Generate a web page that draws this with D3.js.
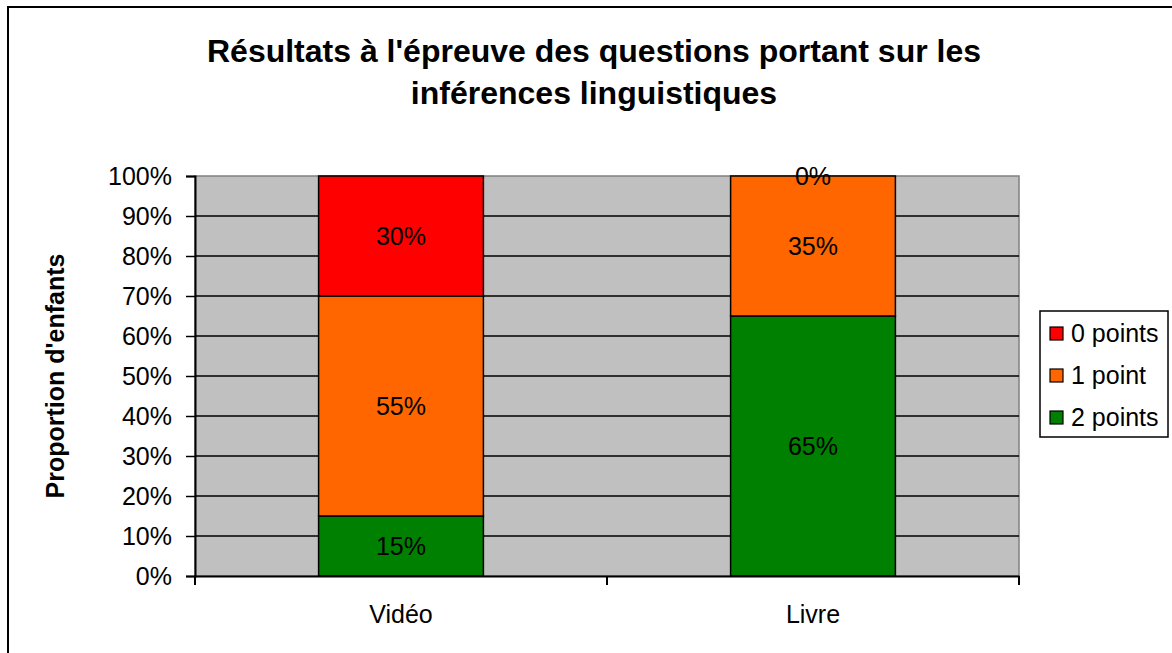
<!DOCTYPE html>
<html>
<head>
<meta charset="utf-8">
<script src="https://cdn.jsdelivr.net/npm/d3@7"></script>
<style>
  body { margin: 0; background: #fff; }
  svg text { font-family: "Liberation Sans", Arial, sans-serif; }
</style>
</head>
<body>
<script>
// données
var categories = ["Vidéo", "Livre"];
var seriesNames = ["2 points", "1 point", "0 points"];
var seriesColors = ["#008000", "#FF6600", "#FF0000"];
var points2 = [15, 65];
var point1 = [55, 35];
var points0 = [30, 0];
var yTicks = [0, 10, 20, 30, 40, 50, 60, 70, 80, 90, 100];

var width = 1172, height = 653;
var plot = { left: 195, top: 176, right: 1019, bottom: 576 };
var fs = "25px";

var svg = d3.select("body").append("svg")
  .attr("width", width)
  .attr("height", height);

// cadre
svg.append("rect")
  .attr("x", 8).attr("y", 7)
  .attr("width", 1200).attr("height", 700)
  .attr("fill", "#fff")
  .attr("stroke", "#000")
  .attr("stroke-width", 2);

var x = d3.scaleBand().domain(categories)
  .range([plot.left, plot.right])
  .paddingInner(0.6).paddingOuter(0.3);
var xOuter = d3.scaleBand().domain(categories).range([plot.left, plot.right]);
var y = d3.scaleLinear().domain([0, 100]).range([plot.bottom, plot.top]);

// fond gris
svg.append("rect")
  .attr("x", plot.left).attr("y", plot.top)
  .attr("width", plot.right - plot.left).attr("height", plot.bottom - plot.top)
  .attr("fill", "#C0C0C0")
  .attr("stroke", "#808080")
  .attr("stroke-width", 1.5);

// quadrillage
svg.append("g").selectAll("line")
  .data(yTicks.filter(function(d) { return d > 0 && d < 100; }))
  .enter().append("line")
  .attr("x1", plot.left).attr("x2", plot.right)
  .attr("y1", function(d) { return y(d); })
  .attr("y2", function(d) { return y(d); })
  .attr("stroke", "#000").attr("stroke-width", 1.5);

// barres empilées
var table = categories.map(function(c, i) {
  return { cat: c, "2 points": points2[i], "1 point": point1[i], "0 points": points0[i] };
});
var stack = d3.stack().keys(seriesNames)(table);

var layer = svg.append("g").selectAll("g")
  .data(stack).enter().append("g");

layer.selectAll("rect")
  .data(function(d) { return d.map(function(p) { return { key: d.key, p: p }; }); })
  .enter().append("rect")
  .filter(function(d) { return d.p[1] - d.p[0] > 0; })
  .attr("x", function(d) { return x(d.p.data.cat); })
  .attr("width", x.bandwidth())
  .attr("y", function(d) { return y(d.p[1]); })
  .attr("height", function(d) { return y(d.p[0]) - y(d.p[1]); })
  .attr("fill", function(d) { return seriesColors[seriesNames.indexOf(d.key)]; })
  .attr("stroke", "#000").attr("stroke-width", 1.5);

// étiquettes des valeurs
layer.selectAll("text")
  .data(function(d) { return d.map(function(p) { return { key: d.key, p: p }; }); })
  .enter().append("text")
  .attr("x", function(d) { return x(d.p.data.cat) + x.bandwidth() / 2; })
  .attr("y", function(d) { return y((d.p[0] + d.p[1]) / 2); })
  .attr("dy", "0.35em")
  .attr("text-anchor", "middle")
  .style("font-size", fs)
  .attr("fill", "#000")
  .text(function(d) { return (d.p[1] - d.p[0]) + "%"; });

// axe Y
var yAxis = svg.append("g")
  .attr("transform", "translate(" + plot.left + ",0)")
  .call(d3.axisLeft(y).tickValues(yTicks).tickSize(9).tickPadding(14)
    .tickFormat(function(d) { return d + "%"; }));
yAxis.select(".domain").attr("stroke", "#000").attr("stroke-width", 2);
yAxis.selectAll(".tick line").attr("stroke", "#000").attr("stroke-width", 1.5);
yAxis.selectAll("text").style("font-size", fs).attr("fill", "#000");

// axe X
var xAxis = svg.append("g")
  .attr("transform", "translate(0," + plot.bottom + ")")
  .call(d3.axisBottom(xOuter).tickSize(0).tickPadding(29));
xAxis.select(".domain").attr("stroke", "#000").attr("stroke-width", 2);
xAxis.selectAll("text").style("font-size", fs).attr("fill", "#000");
xAxis.selectAll(".sep")
  .data([plot.left, xOuter("Livre"), plot.right])
  .enter().append("line")
  .attr("x1", function(d) { return d; }).attr("x2", function(d) { return d; })
  .attr("y1", 0).attr("y2", 9)
  .attr("stroke", "#000").attr("stroke-width", 2);

// titre
var title = svg.append("text")
  .attr("x", 594).attr("y", 62)
  .attr("text-anchor", "middle")
  .style("font-size", "32px").style("font-weight", "bold");
title.append("tspan").attr("x", 594).text("Résultats à l'épreuve des questions portant sur les");
title.append("tspan").attr("x", 594).attr("dy", 42).text("inférences linguistiques");

// titre axe Y
svg.append("text")
  .attr("transform", "translate(64,376) rotate(-90)")
  .attr("text-anchor", "middle")
  .style("font-size", fs).style("font-weight", "bold")
  .text("Proportion d'enfants");

// légende
var legend = svg.append("g").attr("transform", "translate(1040,311)");
legend.append("rect")
  .attr("width", 128).attr("height", 126)
  .attr("fill", "#fff").attr("stroke", "#000").attr("stroke-width", 1.5);
var legendOrder = ["0 points", "1 point", "2 points"];
var items = legend.selectAll(".item")
  .data(legendOrder).enter().append("g")
  .attr("transform", function(d, i) { return "translate(10," + (22 + i * 42) + ")"; });
items.append("rect")
  .attr("x", 0).attr("y", -6).attr("width", 13).attr("height", 13)
  .attr("fill", function(d) { return seriesColors[seriesNames.indexOf(d)]; })
  .attr("stroke", "#000").attr("stroke-width", 1.2);
items.append("text")
  .attr("x", 21).attr("dy", "0.35em")
  .style("font-size", fs)
  .text(function(d) { return d; });
</script>
</body>
</html>
